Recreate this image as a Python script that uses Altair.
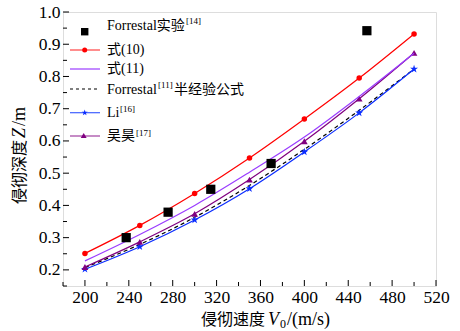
import altair as alt
import pandas as pd

# ---- data -------------------------------------------------------------
V = [200, 250, 300, 350, 400, 450, 500]                      # impact velocity (m/s)
z_eq10 = [0.251, 0.338, 0.437, 0.547, 0.668, 0.795, 0.932]   # 式(10)
z_eq11 = [0.228, 0.310, 0.400, 0.503, 0.612, 0.738, 0.872]   # 式(11)
z_forrestal_semi = [0.207, 0.279, 0.363, 0.462, 0.574, 0.695, 0.823]
z_li = [0.202, 0.272, 0.355, 0.452, 0.566, 0.687, 0.823]
z_wuhao = [0.209, 0.287, 0.374, 0.480, 0.599, 0.731, 0.873]

exp_v = [237.6, 275.8, 314.7, 369.7, 457.0]                  # Forrestal experiments
exp_z = [0.300, 0.379, 0.450, 0.530, 0.942]

x_major = [200, 240, 280, 320, 360, 400, 440, 480, 520]
x_minor = [180, 220, 260, 300, 340, 380, 420, 460, 500]
y_major = [0.2, 0.3, 0.4, 0.5, 0.6, 0.7, 0.8, 0.9, 1.0]
y_minor = [0.15, 0.25, 0.35, 0.45, 0.55, 0.65, 0.75, 0.85, 0.95]

# ---- styling ----------------------------------------------------------
W, H = 373, 274
SERIF = "Liberation Serif, Noto Sans CJK SC"
CJK = "Noto Sans CJK SC"

xs = alt.Scale(domain=[180, 520], nice=False, zero=False)
ys = alt.Scale(domain=[0.15, 1.0], nice=False, zero=False)
x_axis = alt.Axis(values=x_major, ticks=False, domain=False, grid=False,
                  labelFont=SERIF, labelFontSize=17.5, labelColor="black",
                  labelPadding=2, labelFlush=False)
y_axis = alt.Axis(values=y_major, ticks=False, domain=False, grid=False, format=".1f",
                  labelFont=SERIF, labelFontSize=17.5, labelColor="black",
                  labelPadding=3, labelFlush=False)


def X():
    return alt.X("v:Q", scale=xs, axis=x_axis, title=None)


def Y():
    return alt.Y("z:Q", scale=ys, axis=y_axis, title=None)


def series(values, color, shape=None, size=30, dash=None):
    df = pd.DataFrame({"v": V, "z": values})
    line_kw = dict(color=color, strokeWidth=1.2, interpolate="monotone")
    if dash:
        line_kw["strokeDash"] = dash
    layers = [alt.Chart(df).mark_line(**line_kw).encode(x=X(), y=Y())]
    if shape:
        layers.append(alt.Chart(df).mark_point(filled=True, opacity=1, shape=shape,
                                               size=size, color=color)
                      .encode(x=X(), y=Y()))
    return layers


STAR = ("M0,-1L0.2245,-0.309L0.951,-0.309L0.363,0.118L0.588,0.809L0,0.382"
        "L-0.588,0.809L-0.363,0.118L-0.951,-0.309L-0.2245,-0.309Z")

layers = []
layers += series(z_forrestal_semi, "black", dash=[4, 3])
layers += series(z_li, "#0a2cff", shape=STAR, size=70)
layers += series(z_wuhao, "#800080", shape="triangle-up", size=45)
layers += series(z_eq11, "#9a3cff")
layers += series(z_eq10, "#ff0000", shape="circle", size=30)

exp_df = pd.DataFrame({"v": exp_v, "z": exp_z})
layers.append(alt.Chart(exp_df).mark_point(filled=True, opacity=1, shape="square",
                                           size=85, color="black")
              .encode(x=X(), y=Y()))

# inward ticks
for vals, ln in ((x_major, 6), (x_minor, 4)):
    layers.append(alt.Chart(pd.DataFrame({"v": vals})).mark_rule(color="black", strokeWidth=1)
                  .encode(x=X(), y=alt.value(H), y2=alt.value(H - ln)))
for vals, ln in ((y_major, 6), (y_minor, 4)):
    layers.append(alt.Chart(pd.DataFrame({"z": vals})).mark_rule(color="black", strokeWidth=1)
                  .encode(y=Y(), x=alt.value(0), x2=alt.value(ln)))

# ---- legend (inside the plot, top-left) -------------------------------
one = pd.DataFrame({"k": [0]})


def txt(s, x, y, size=14, font=SERIF, style="normal", angle=0, base="middle"):
    kw = dict(text=s, align="left", baseline=base, font=font, fontSize=size,
              fontStyle=style, color="black")
    if angle:
        kw["angle"] = angle
    return alt.Chart(one).mark_text(**kw).encode(x=alt.value(x), y=alt.value(y))


def sym(shape, color, x, y, size):
    return alt.Chart(one).mark_point(filled=True, opacity=1, shape=shape, size=size,
                                     color=color).encode(x=alt.value(x), y=alt.value(y))


def seg(color, y, dash=None):
    kw = dict(color=color, strokeWidth=1.2)
    if dash:
        kw["strokeDash"] = dash
    return alt.Chart(one).mark_rule(**kw).encode(x=alt.value(7), x2=alt.value(37),
                                                 y=alt.value(y))


SX, TX = 21.7, 44
layers += [
    sym("square", "black", SX, 19.7, 55),
    txt("Forrestal实验", TX, 14), txt("[14]", 123, 9, size=9),
    seg("#ff4040", 38), sym("circle", "#ff0000", SX, 38, 25),
    txt("式(10)", TX, 37.5),
    seg("#9a3cff", 57),
    txt("式(11)", TX, 57),
    seg("black", 77, dash=[3, 3]),
    txt("Forrestal", TX, 78), txt("[11]", 95, 72.5, size=9), txt("半经验公式", 111, 78),
    seg("#4060ff", 100.7), sym(STAR, "#0a2cff", SX, 100.7, 40),
    txt("Li", TX, 100.5), txt("[16]", 57, 96.5, size=9),
    seg("#a040a0", 124), sym("triangle-up", "#800080", SX - 1, 123.5, 35),
    txt("吴昊", TX, 124), txt("[17]", 73, 121, size=9),
]

# ---- axis titles ------------------------------------------------------
layers += [
    txt("侵彻速度", 138, 308, size=16, font=CJK),
    txt("V", 205, 308, size=18, style="italic"),
    txt("0", 217, 312, size=12),
    txt("/(m/s)", 224, 308, size=18),
    txt("侵彻深度", -43, 192, size=16, font=CJK, angle=270),
    txt("Z", -43, 126, size=18, style="italic", angle=270),
    txt("/m", -43, 114, size=18, angle=270),
]

chart = alt.layer(*layers).properties(
    width=W, height=H,
    autosize=alt.AutoSizeParams(type="none"),
    padding={"left": 63, "top": 12, "right": 24, "bottom": 45},
).configure_view(stroke="black", strokeWidth=1.5).configure(background="white")

chart.save("out.html", embed_options={"renderer": "svg", "actions": False})
